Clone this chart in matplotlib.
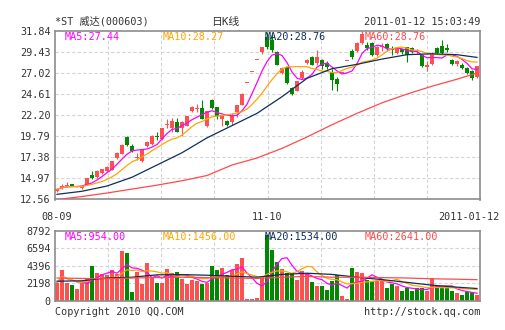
import numpy as np
import pandas as pd
import matplotlib
matplotlib.use("Agg")
import matplotlib.pyplot as plt

plt.rcParams['font.family'] = ['DejaVu Sans Mono', 'Noto Sans CJK SC']

# Tageskerzen *ST 威达, 2010-08-09 .. 2011-01-12
opens = [13.53, 13.84, 14.10, 14.30, 13.99, 13.84, 14.22, 15.36, 15.17, 15.55,
         15.81, 15.93, 17.34, 17.76, 19.73, 18.71, 17.35, 16.96, 18.67, 18.90,
         19.85, 19.47, 21.10, 20.69, 21.37, 20.69, 20.99, 22.67, 22.89, 23.00,
         20.92, 23.96, 23.09, 21.75, 21.56, 21.41, 22.55, 23.31, 25.88, 27.17,
         28.53, 29.40, 31.15, 30.81, 29.40, 27.01, 27.65, 25.29, 24.99, 26.43,
         28.15, 28.83, 28.19, 28.53, 28.10, 27.15, 26.36, 27.04, 28.39, 29.56,
         29.56, 30.43, 30.20, 30.43, 29.10, 29.95, 30.32, 29.80, 29.30, 29.70,
         29.94, 29.86, 29.60, 29.10, 27.65, 28.03, 29.86, 30.05, 29.90, 28.53,
         28.03, 27.96, 27.58, 27.20, 26.51]
closes = [13.72, 14.10, 14.22, 14.10, 14.06, 14.06, 14.98, 15.05, 15.81, 16.00,
          16.27, 16.96, 17.87, 18.78, 18.78, 18.14, 17.45, 18.17, 19.09, 19.85,
          19.66, 20.69, 21.14, 21.52, 20.31, 21.37, 22.10, 23.09, 22.97, 21.80,
          22.63, 23.01, 22.06, 22.17, 21.11, 22.25, 23.31, 24.65, 25.88, 27.17,
          28.53, 29.96, 30.00, 29.60, 27.95, 27.58, 25.86, 24.65, 26.05, 27.16,
          28.45, 27.96, 28.79, 27.77, 27.70, 26.24, 25.75, 27.04, 28.39, 28.79,
          30.43, 31.50, 29.90, 29.10, 29.94, 30.05, 29.86, 29.67, 29.86, 29.40,
          29.10, 29.40, 29.50, 27.77, 27.96, 29.29, 29.29, 29.29, 29.60, 28.03,
          28.34, 27.58, 27.01, 26.43, 27.77]
highs = [13.80, 14.30, 14.52, 14.35, 14.10, 14.10, 15.00, 15.81, 15.93, 16.05,
         16.42, 17.00, 18.02, 18.85, 19.81, 18.86, 17.83, 18.20, 19.20, 19.93,
         20.23, 20.75, 21.72, 21.83, 21.83, 21.50, 22.15, 23.20, 23.43, 23.89,
         22.70, 24.00, 23.10, 22.25, 21.60, 22.40, 23.40, 24.70, 25.88, 27.17,
         28.53, 29.96, 31.72, 31.50, 29.50, 27.70, 27.70, 25.40, 26.10, 27.30,
         28.60, 28.90, 29.67, 28.60, 28.40, 27.50, 26.50, 27.04, 28.39, 29.80,
         30.50, 31.84, 30.60, 30.50, 30.10, 30.40, 30.40, 30.05, 29.90, 29.80,
         30.00, 30.00, 29.70, 29.20, 28.34, 29.40, 30.00, 30.81, 30.30, 28.60,
         28.53, 28.10, 27.70, 27.30, 27.80]
lows = [13.45, 13.77, 13.99, 14.05, 13.95, 13.80, 14.20, 14.86, 15.05, 15.50,
        15.66, 15.90, 17.18, 17.70, 18.67, 18.02, 17.07, 16.90, 18.60, 18.78,
        19.35, 19.40, 20.69, 20.31, 20.23, 19.80, 20.90, 22.51, 22.51, 21.70,
        20.88, 22.90, 21.75, 20.92, 21.00, 21.11, 22.00, 23.30, 25.88, 27.17,
        28.53, 29.20, 29.80, 29.40, 27.90, 26.90, 25.70, 24.50, 24.90, 26.30,
        28.00, 27.90, 27.90, 27.50, 27.50, 25.06, 24.99, 27.04, 28.39, 28.60,
        29.40, 30.30, 29.60, 29.00, 29.00, 29.50, 29.50, 29.10, 29.20, 29.20,
        28.26, 29.30, 29.30, 27.70, 27.20, 27.90, 29.20, 29.20, 29.40, 27.90,
        27.77, 27.50, 26.90, 26.24, 26.40]
volumes = [2250, 3871, 2232, 1980, 1475, 2232, 2774, 4376, 3531, 3329,
           3241, 3871, 3329, 6267, 6015, 1097, 3657, 2144, 4716, 2900,
           2232, 2232, 3997, 3531, 3657, 2774, 2144, 2572, 2470, 2144,
           2200, 4376, 3871, 4081, 3241, 3871, 4670, 5384, 252, 252,
           378, 2985, 8200, 6393, 4922, 3997, 3470, 3470, 2560, 3720,
           3470, 2320, 1854, 1854, 1370, 2522, 3241, 570, 215, 4100,
           3657, 3531, 2570, 2470, 2460, 2570, 1630, 2120, 1790, 1160,
           1580, 1160, 1600, 1540, 1160, 2800, 1800, 1780, 1700, 1200,
           950, 760, 1150, 1150, 720]

ma_idx = [0, 5, 10, 15, 20, 25, 30, 35, 40, 45, 50, 55, 60, 65, 70, 75, 80, 84]
ma20_price = [13.15, 13.50, 14.10, 15.10, 16.50, 17.90, 19.60, 21.00, 22.40,
              24.30, 26.40, 27.50, 28.00, 28.60, 29.10, 29.20, 29.10, 28.79]
ma60_price = [12.55, 12.90, 13.30, 13.75, 14.20, 14.70, 15.30, 16.50, 17.30,
              18.40, 19.70, 21.10, 22.40, 23.60, 24.60, 25.50, 26.30, 27.00]
ma20_vol = [2450, 2500, 2850, 2950, 3250, 3280, 3200, 3070, 2950,
            3300, 3450, 3300, 2950, 2650, 2300, 1950, 1700, 1534]
ma60_vol = [2850, 2800, 2750, 2850, 2900, 2950, 2900, 2850, 2800,
            2950, 3050, 2950, 2950, 2900, 2850, 2750, 2700, 2641]

price_ticks = [12.56, 14.97, 17.38, 19.79, 22.20, 24.61, 27.02, 29.43, 31.84]
vol_ticks = [0, 2198, 4396, 6594, 8792]
date_labels = ["08-09", "11-10", "2011-01-12"]
date_idx = [0, 42, 84]

RED = '#ff5050'
GREEN = '#008800'
C_MA5 = '#ff00ff'
C_MA10 = '#ffa500'
C_MA20 = '#0d2f5a'
C_MA60 = '#ff4a4a'
TXT = '#333333'
GRID = '#d4d4d4'

W, H = 505, 330
fig = plt.figure(figsize=(W / 100, H / 100), dpi=100)
fig.patch.set_facecolor('white')

def fx(x):  # Pixel -> Figurkoordinate
    return x / W

def fy(y):
    return 1 - y / H

def panel(top, bottom):
    return fig.add_axes([fx(55), fy(bottom), fx(480) - fx(55), fy(top) - fy(bottom)])

ax = panel(30.7, 199.5)
axv = panel(230.7, 300.7)

o = np.array(opens); c = np.array(closes)
hi = np.array(highs); lo = np.array(lows)
vol = np.array(volumes)
k = np.arange(len(o))
cols = [RED if cc >= oo else GREEN for oo, cc in zip(o, c)]

ma5 = pd.Series(c).rolling(5, min_periods=1).mean()
ma10 = pd.Series(c).rolling(10, min_periods=1).mean()
vma5 = pd.Series(vol).rolling(5, min_periods=1).mean()
vma10 = pd.Series(vol).rolling(10, min_periods=1).mean()

xlim = (-0.4, len(k) - 0.4)

for a, ticks in ((ax, price_ticks), (axv, vol_ticks)):
    a.set_xlim(*xlim)
    a.set_ylim(ticks[0], ticks[-1])
    for t in ticks[1:-1]:
        a.axhline(t, color=GRID, lw=0.8, ls=(0, (3, 2)), zorder=0)
    for i in range(1, 8):
        a.axvline(xlim[0] + i * (xlim[1] - xlim[0]) / 8, color=GRID, lw=0.8,
                  ls=(0, (3, 2)), zorder=0)
    a.set_yticks(ticks)
    a.set_xticks([])
    a.tick_params(axis='y', length=0, pad=3, labelsize=7.3, labelcolor=TXT)
    for s in a.spines.values():
        s.set_color('#8c8c8c')
        s.set_linewidth(1.2)

ax.set_yticklabels([f"{t:.2f}" for t in price_ticks])
axv.set_yticklabels([str(t) for t in vol_ticks])

# Kerzen
min_h = 0.12
body_lo = np.minimum(o, c)
body_h = np.maximum(np.abs(c - o), min_h)
ax.vlines(k, lo, hi, colors=cols, lw=0.8, zorder=2)
ax.bar(k, body_h, bottom=body_lo, width=0.8, color=cols, lw=0, zorder=3)

ax.plot(k, ma5, color=C_MA5, lw=0.9, zorder=4)
ax.plot(k, ma10, color=C_MA10, lw=0.9, zorder=4)
ax.plot(ma_idx, ma20_price, color=C_MA20, lw=0.9, zorder=4)
ax.plot(ma_idx, ma60_price, color=C_MA60, lw=0.9, zorder=4)

# Volumen
axv.bar(k, vol, width=0.8, color=cols, lw=0, zorder=2)
axv.plot(k, vma5, color=C_MA5, lw=0.9, zorder=4)
axv.plot(k, vma10, color=C_MA10, lw=0.9, zorder=4)
axv.plot(ma_idx, ma20_vol, color=C_MA20, lw=0.9, zorder=4)
axv.plot(ma_idx, ma60_vol, color=C_MA60, lw=0.9, zorder=4)

fs = 7.3
fig.text(fx(55), fy(21.7), "*ST 威达(000603)", fontsize=fs, color=TXT, va='center')
fig.text(fx(225), fy(21.5), "日K线", fontsize=fs + 0.5, color=TXT, va='center', ha='center')
fig.text(fx(480), fy(21.7), "2011-01-12 15:03:49", fontsize=fs, color=TXT,
         va='center', ha='right')

for x, lab, col in ((65, "MA5:27.44", C_MA5), (163, "MA10:28.27", C_MA10),
                    (265, "MA20:28.76", C_MA20), (365, "MA60:28.76", C_MA60)):
    fig.text(fx(x), fy(37), lab, fontsize=fs, color=col, va='center')
for x, lab, col in ((65, "MA5:954.00", C_MA5), (163, "MA10:1456.00", C_MA10),
                    (265, "MA20:1534.00", C_MA20), (365, "MA60:2641.00", C_MA60)):
    fig.text(fx(x), fy(236.7), lab, fontsize=fs, color=col, va='center')

# Datumsbeschriftung unter dem Kurschart
for lab, i in zip(date_labels, date_idx):
    xd = ax.transData.transform((i, 0))[0] / fig.dpi / fig.get_figwidth()
    ha = 'center'
    if i == date_idx[-1]:
        xd, ha = fx(499), 'right'
    fig.text(xd, fy(216.7), lab, fontsize=fs, color=TXT, va='center', ha=ha)

fig.text(fx(55), fy(311.7), "Copyright 2010 QQ.COM", fontsize=fs, color=TXT, va='center')
fig.text(fx(480), fy(311.7), "http://stock.qq.com", fontsize=fs, color=TXT,
         va='center', ha='right')

fig.savefig("out.png", dpi=100, facecolor='white')
